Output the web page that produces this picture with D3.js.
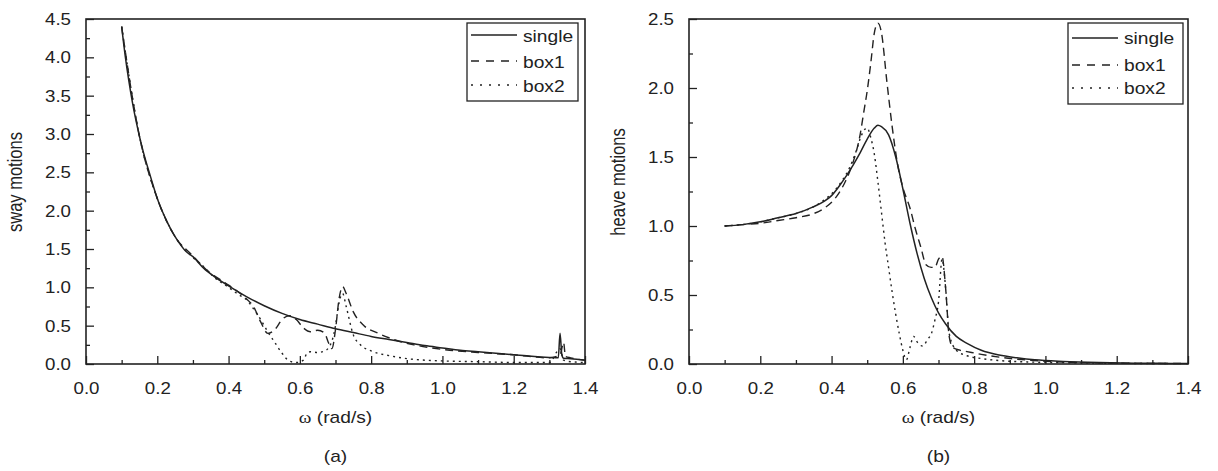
<!DOCTYPE html>
<html><head><meta charset="utf-8">
<script src="https://cdn.jsdelivr.net/npm/d3@7"></script>
<style>
html,body{margin:0;padding:0;background:#fff;}
svg{display:block;font-family:"Liberation Sans",Arial,sans-serif;}
</style></head>
<body><svg id="chart" width="1218" height="471"></svg>
<script>
// ---------------- DATA ----------------
const seriesNames = ["single", "box1", "box2"];
const xTicks = [0.0, 0.2, 0.4, 0.6, 0.8, 1.0, 1.2, 1.4];
const xMinorTicks = [0.1, 0.3, 0.5, 0.7, 0.9, 1.1, 1.3];
const swayTicks = [0.0, 0.5, 1.0, 1.5, 2.0, 2.5, 3.0, 3.5, 4.0, 4.5];
const swayMinorTicks = [0.25, 0.75, 1.25, 1.75, 2.25, 2.75, 3.25, 3.75, 4.25];
const heaveTicks = [0.0, 0.5, 1.0, 1.5, 2.0, 2.5];
const heaveMinorTicks = [0.25, 0.75, 1.25, 1.75, 2.25];

// (a) sway motions
const swaySingleW = [0.10,0.11,0.12,0.13,0.14,0.15,0.16,0.18,0.20,0.22,0.24,0.26,0.28,0.30,0.33,0.36,0.40,0.45,0.50,0.55,0.60,0.65,0.70,0.75,0.80,0.85,0.90,0.95,1.00,1.05,1.10,1.15,1.20,1.25,1.30,1.325,1.33,1.335,1.34,1.36,1.40];
const swaySingleV = [4.40,4.02,3.70,3.42,3.18,2.97,2.78,2.46,2.16,1.93,1.74,1.59,1.47,1.40,1.25,1.14,1.02,0.88,0.76,0.66,0.58,0.52,0.46,0.41,0.36,0.32,0.28,0.24,0.21,0.18,0.16,0.14,0.12,0.10,0.085,0.08,0.40,0.12,0.075,0.07,0.05];
const swayBox1W = [0.10,0.15,0.20,0.25,0.30,0.32,0.34,0.36,0.38,0.40,0.43,0.45,0.47,0.49,0.51,0.53,0.55,0.57,0.59,0.61,0.63,0.65,0.67,0.68,0.69,0.70,0.71,0.72,0.73,0.75,0.78,0.82,0.87,0.92,0.97,1.02,1.10,1.20,1.30,1.33,1.34,1.345,1.36,1.40];
const swayBox1V = [4.40,2.97,2.16,1.66,1.41,1.31,1.22,1.15,1.09,1.03,0.93,0.85,0.75,0.55,0.40,0.45,0.58,0.63,0.58,0.47,0.42,0.44,0.40,0.28,0.20,0.45,0.85,1.01,0.92,0.68,0.50,0.40,0.31,0.25,0.21,0.18,0.15,0.12,0.08,0.12,0.28,0.10,0.08,0.05];
const swayBox2W = [0.10,0.15,0.20,0.25,0.30,0.33,0.36,0.40,0.43,0.45,0.47,0.49,0.51,0.53,0.55,0.57,0.59,0.61,0.62,0.63,0.65,0.67,0.69,0.70,0.71,0.72,0.73,0.75,0.77,0.80,0.85,0.90,1.00,1.10,1.20,1.30,1.33,1.34,1.36,1.40];
const swayBox2V = [4.40,2.97,2.16,1.66,1.39,1.27,1.13,1.00,0.90,0.84,0.72,0.58,0.42,0.28,0.14,0.04,0.02,0.05,0.14,0.16,0.15,0.17,0.30,0.50,0.80,0.92,0.75,0.38,0.25,0.17,0.11,0.07,0.04,0.03,0.02,0.02,0.20,0.05,0.03,0.02];

// (b) heave motions
const heaveSingleW = [0.10,0.15,0.20,0.25,0.30,0.35,0.38,0.40,0.43,0.46,0.48,0.50,0.52,0.53,0.54,0.56,0.58,0.60,0.62,0.64,0.66,0.68,0.70,0.72,0.75,0.78,0.82,0.87,0.92,0.97,1.05,1.15,1.25,1.35,1.40];
const heaveSingleV = [1.00,1.01,1.03,1.06,1.09,1.14,1.18,1.22,1.32,1.44,1.53,1.63,1.71,1.73,1.72,1.66,1.50,1.27,1.02,0.80,0.62,0.48,0.37,0.29,0.20,0.15,0.10,0.065,0.045,0.03,0.018,0.010,0.006,0.004,0.003];
const heaveBox1W = [0.10,0.15,0.20,0.25,0.30,0.35,0.38,0.41,0.44,0.46,0.48,0.49,0.50,0.51,0.52,0.53,0.54,0.555,0.57,0.585,0.60,0.62,0.635,0.65,0.665,0.68,0.69,0.70,0.71,0.72,0.73,0.74,0.76,0.78,0.82,0.87,0.92,1.00,1.10,1.20,1.30,1.40];
const heaveBox1V = [1.00,1.01,1.02,1.04,1.06,1.09,1.13,1.20,1.33,1.46,1.66,1.82,1.98,2.18,2.40,2.47,2.40,2.05,1.72,1.45,1.28,1.13,0.98,0.85,0.72,0.70,0.70,0.76,0.78,0.55,0.20,0.12,0.10,0.09,0.07,0.05,0.035,0.02,0.01,0.006,0.004,0.003];
const heaveBox2W = [0.10,0.15,0.20,0.25,0.30,0.35,0.38,0.41,0.43,0.45,0.47,0.48,0.49,0.50,0.51,0.52,0.53,0.54,0.55,0.56,0.57,0.58,0.59,0.60,0.61,0.62,0.63,0.64,0.655,0.67,0.68,0.69,0.70,0.71,0.72,0.73,0.75,0.78,0.82,0.87,0.95,1.05,1.20,1.35];
const heaveBox2V = [1.00,1.01,1.03,1.06,1.09,1.14,1.19,1.26,1.33,1.42,1.55,1.63,1.69,1.71,1.64,1.52,1.32,1.10,0.88,0.70,0.52,0.36,0.22,0.10,0.03,0.12,0.20,0.16,0.13,0.18,0.22,0.32,0.45,0.76,0.55,0.22,0.10,0.06,0.04,0.025,0.015,0.01,0.005,0.003];

// ---------------- DRAW ----------------
const SX = 1.2;          // horizontal stretch of the original figure's lettering
const FS = 16;
const TICK_FS = 17, TICK_SX = 1.1;
const INK = "#222";
const dashes = {single: null, box1: "8,5", box2: "2,4"};
const legendDashes = {single: null, box1: "8,7", box2: "2,7"};

const svg = d3.select("#chart");

function stext(g, x, y, s, anchor, rotate, fs) {
  return g.append("text")
    .attr("transform", `translate(${x},${y}) scale(${SX},1)` + (rotate ? " rotate(-90)" : ""))
    .attr("text-anchor", anchor)
    .attr("font-size", fs || FS)
    .attr("fill", INK)
    .text(s);
}

const panels = [
  {left: 86, right: 585, top: 19, bottom: 364, yMax: 4.5, yTicks: swayTicks, yMinor: swayMinorTicks,
   ylabel: "sway motions", ylabelY: 182, caption: "(a)",
   data: [[swaySingleW, swaySingleV], [swayBox1W, swayBox1V], [swayBox2W, swayBox2V]],
   legend: {x: 467, y: 23, w: 111, h: 78, lineY: [35, 61, 85], textY: [41.5, 67.5, 91.5]}},
  {left: 689, right: 1188, top: 19, bottom: 364, yMax: 2.5, yTicks: heaveTicks, yMinor: heaveMinorTicks,
   ylabel: "heave motions", ylabelY: 182, caption: "(b)",
   data: [[heaveSingleW, heaveSingleV], [heaveBox1W, heaveBox1V], [heaveBox2W, heaveBox2V]],
   legend: {x: 1068, y: 23, w: 115, h: 81, lineY: [38, 65, 88], textY: [44, 70.5, 94]}}
];

panels.forEach(p => {
  const g = svg.append("g");
  const x = d3.scaleLinear().domain([0, 1.4]).range([p.left, p.right]);
  const y = d3.scaleLinear().domain([0, p.yMax]).range([p.bottom, p.top]);

  // minor ticks
  g.append("g").attr("transform", `translate(0,${p.bottom})`)
    .call(d3.axisBottom(x).tickValues(xMinorTicks).tickSize(-4).tickFormat(""));
  g.append("g").attr("transform", `translate(${p.left},0)`)
    .call(d3.axisLeft(y).tickValues(p.yMinor).tickSize(-4).tickFormat(""));
  // major ticks
  const xa = g.append("g").attr("transform", `translate(0,${p.bottom})`)
    .call(d3.axisBottom(x).tickValues(xTicks).tickSize(-8).tickPadding(18).tickFormat(d3.format(".1f")));
  const ya = g.append("g").attr("transform", `translate(${p.left},0)`)
    .call(d3.axisLeft(y).tickValues(p.yTicks).tickSize(-8).tickPadding(15 / TICK_SX).tickFormat(d3.format(".1f")));
  [xa, ya].forEach(a => {
    a.selectAll("text").attr("font-size", TICK_FS).attr("fill", INK)
      .attr("font-family", "Liberation Sans, Arial, sans-serif")
      .attr("transform", `scale(${TICK_SX},1)`);
  });
  g.selectAll(".tick line").attr("stroke", INK).attr("stroke-width", 1.3);
  g.selectAll("path.domain").remove();

  // curves
  const line = d3.line().x(d => x(d[0])).y(d => y(d[1])).curve(d3.curveMonotoneX);
  p.data.forEach((s, i) => {
    const pts = s[0].map((w, k) => [w, s[1][k]]);
    g.append("path").datum(pts)
      .attr("d", line)
      .attr("fill", "none")
      .attr("stroke", INK)
      .attr("stroke-width", i === 0 ? 1.5 : 1.4)
      .attr("stroke-dasharray", dashes[seriesNames[i]]);
  });

  // frame
  g.append("rect").attr("x", p.left).attr("y", p.top)
    .attr("width", p.right - p.left).attr("height", p.bottom - p.top)
    .attr("fill", "none").attr("stroke", INK).attr("stroke-width", 1.6);

  // legend
  const L = p.legend;
  g.append("rect").attr("x", L.x).attr("y", L.y).attr("width", L.w).attr("height", L.h)
    .attr("fill", "#fff").attr("stroke", INK).attr("stroke-width", 1.3);
  seriesNames.forEach((n, i) => {
    g.append("line").attr("x1", L.x + 4).attr("x2", L.x + 50)
      .attr("y1", L.lineY[i]).attr("y2", L.lineY[i])
      .attr("stroke", INK).attr("stroke-width", 1.4)
      .attr("stroke-dasharray", legendDashes[n]);
    stext(g, L.x + 56, L.textY[i], n, "start");
  });

  // axis titles
  stext(g, p.left - 64, p.ylabelY, p.ylabel, "middle", true, 16.5);
  const cx = (p.left + p.right) / 2;
  const t = g.append("text")
    .attr("transform", `translate(${cx},423) scale(${SX},1)`)
    .attr("text-anchor", "middle").attr("font-size", FS).attr("fill", INK);
  t.append("tspan").attr("font-family", "Liberation Serif, Times New Roman, serif").text("ω");
  t.append("tspan").text(" (rad/s)");
  stext(g, cx, 462, p.caption, "middle");
});
</script>
</body></html>
